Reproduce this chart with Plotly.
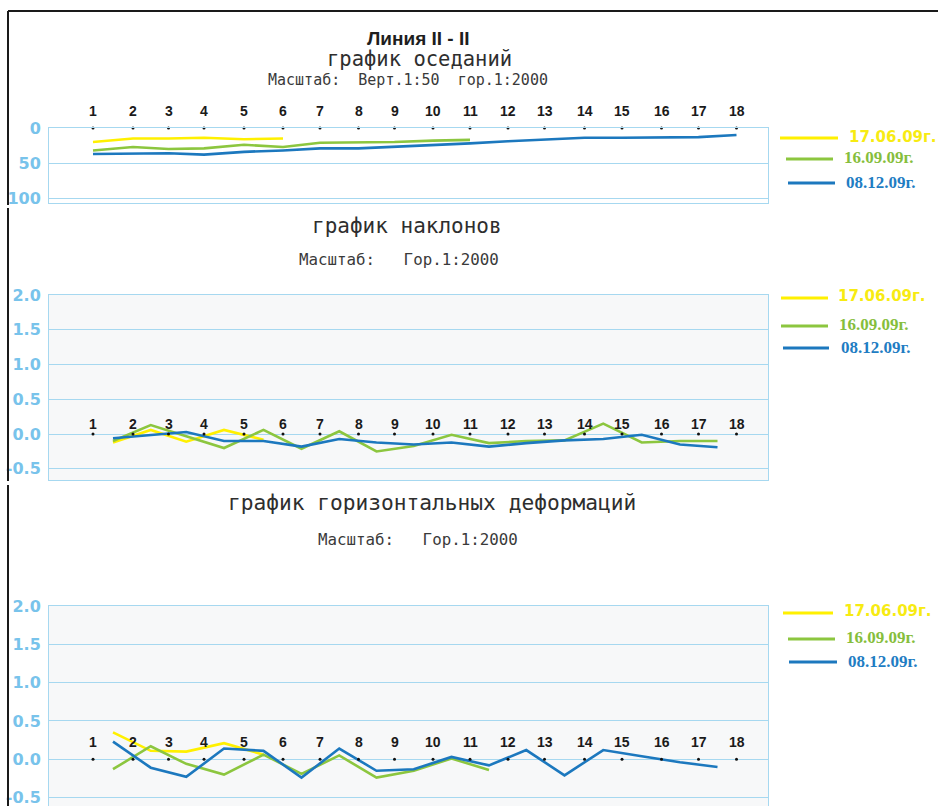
import plotly.graph_objects as go

# ---------------- data ----------------
station_labels = [str(i) for i in range(1, 19)]
# distance along the line (m), non-uniform station spacing
station_dist = [0, 40, 75.5, 111, 151, 190, 227, 265.5, 301.5, 340, 377, 415,
                451.5, 491.5, 529, 568.5, 605.5, 643.5]

series_names = ["17.06.09г.", "16.09.09г.", "08.12.09г."]

# settlement (mm) at stations
settle_jun = [20, 15, 15, 14, 16, 15]
settle_sep = [32, 27, 30, 29, 24, 27, 21, 21, 20, 18, 17]
settle_dec = [37, 36, 36, 38, 34, 32, 29, 29, 27, 24, 22, 19, 17, 14, 14, 14, 13, 10]

# tilts (per interval)
tilt_jun = [-0.12, 0.06, -0.11, 0.06, -0.08]
tilt_sep = [-0.10, 0.13, -0.03, -0.20, 0.06, -0.21, 0.04, -0.25, -0.17, -0.01,
            -0.13, -0.10, -0.09, 0.15, -0.12, -0.10, -0.10]
tilt_dec = [-0.06, -0.01, 0.03, -0.10, -0.10, -0.18, -0.07, -0.12, -0.15, -0.12,
            -0.18, -0.13, -0.09, -0.07, -0.01, -0.15, -0.19]

# horizontal deformations (per interval)
deform_jun = [0.35, 0.11, 0.10, 0.21, 0.06]
deform_sep = [-0.13, 0.17, -0.06, -0.20, 0.06, -0.19, 0.05, -0.24, -0.15, 0.01, -0.14]
deform_dec = [0.23, -0.11, -0.23, 0.14, 0.11, -0.24, 0.14, -0.15, -0.13, 0.03,
              -0.08, 0.12, -0.21, 0.12, 0.04, -0.04, -0.10]

settle_ticks = [0, 50, 100]
ratio_ticks = [2.0, 1.5, 1.0, 0.5, 0.0, -0.5]
ratio_ticktext = ["2.0", "1.5", "1.0", "0.5", "0.0", "-0.5"]

# ---------------- style ----------------
W, H = 938, 806
YEL, GRN, BLU = "#FFF000", "#8CC63F", "#1C78BE"
YEL_T, GRN_T, BLU_T = "#F7EB12", "#86BE3C", "#1F7DC3"
GRID = "#A6D8F0"
TICK = "#78C3EB"
colors = [YEL, GRN, BLU]
text_colors = [YEL_T, GRN_T, BLU_T]

def fx(p):
    return p / W

def fy(p):
    return 1 - p / H

mids = [(station_dist[i] + station_dist[i + 1]) / 2 for i in range(len(station_dist) - 1)]

fig = go.Figure()

panels = [
    ("x", "y", [settle_jun, settle_sep, settle_dec], station_dist),
    ("x2", "y2", [tilt_jun, tilt_sep, tilt_dec], mids),
    ("x3", "y3", [deform_jun, deform_sep, deform_dec], mids),
]
for xa, ya, vals, xs in panels:
    for k, v in enumerate(vals):
        fig.add_trace(go.Scatter(
            x=xs[:len(v)], y=v, mode="lines", xaxis=xa, yaxis=ya,
            line=dict(color=colors[k], width=2.6), name=series_names[k],
            showlegend=False, hoverinfo="skip"))
    # station dots
    fig.add_trace(go.Scatter(
        x=station_dist, y=[0] * len(station_dist), mode="markers", xaxis=xa, yaxis=ya,
        marker=dict(color="#111111", size=3), showlegend=False, cliponaxis=False,
        hoverinfo="skip"))

xdom = [fx(49), fx(768)]
xr = [-44, 675]
common_x = dict(domain=xdom, range=xr, showticklabels=False, showgrid=False,
                zeroline=False, showline=True, mirror=True, linecolor=GRID, linewidth=1,
                automargin=False)
common_y = dict(showgrid=True, gridcolor=GRID, gridwidth=1, zeroline=False,
                showline=True, mirror=True, linecolor=GRID, linewidth=1,
                ticks="", tickfont=dict(family="DejaVu Sans", size=16, color=TICK, weight="bold"),
                ticklabelstandoff=4, automargin=False, ticklabeloverflow="allow")

fig.update_layout(
    width=W, height=H, margin=dict(l=0, r=0, t=0, b=0, pad=0, autoexpand=False),
    paper_bgcolor="white", plot_bgcolor="white",
    xaxis=dict(anchor="y", **common_x),
    xaxis2=dict(anchor="y2", **common_x),
    xaxis3=dict(anchor="y3", **common_x),
    yaxis=dict(anchor="x", domain=[fy(203), fy(128)], range=[107, 0],
               tickvals=settle_ticks, **common_y),
    yaxis2=dict(anchor="x2", domain=[fy(480), fy(295)], range=[-0.66, 2.0],
                tickvals=ratio_ticks, ticktext=ratio_ticktext, **common_y),
    yaxis3=dict(anchor="x3", domain=[0, fy(606)], range=[-0.61, 2.0],
                tickvals=ratio_ticks, ticktext=ratio_ticktext, **common_y),
)

shapes = []
# light grey backgrounds of lower panels
for xa, ya in [("x2", "y2"), ("x3", "y3")]:
    shapes.append(dict(type="rect", xref=f"{xa} domain", yref=f"{ya} domain",
                       x0=0, x1=1, y0=0, y1=1, fillcolor="#F7F8F9",
                       line=dict(width=0), layer="below"))
# black frame
frame = dict(color="#1A1A1A", width=2)
shapes.append(dict(type="line", xref="paper", yref="paper", x0=fx(8), x1=1,
                   y0=fy(11), y1=fy(11), line=frame))
for a, b in [(11, 205), (208, 481), (485, 806)]:
    shapes.append(dict(type="line", xref="paper", yref="paper", x0=fx(8), x1=fx(8),
                       y0=fy(a), y1=fy(b), line=frame))

annotations = []

def ann(text, x, y, size, family, color="#2A2A2A", xanchor="center", weight="normal"):
    annotations.append(dict(text=text, x=fx(x), y=fy(y), xref="paper", yref="paper",
                            showarrow=False, xanchor=xanchor, yanchor="middle",
                            borderpad=0,
                            font=dict(family=family, size=size, color=color, weight=weight)))

NB = "\u00a0"
ann("Линия II - II", 418, 39, 19, "Liberation Sans", "#1E1E1E", weight="bold")
ann("график оседаний", 419, 59, 20.5, "DejaVu Sans Mono", "#2E2E2E")
ann("Масштаб:" + NB * 2 + "Верт.1:50" + NB * 2 + "гор.1:2000", 408, 80, 15, "DejaVu Sans Mono", "#3A3A3A")
ann("график наклонов", 407, 226, 21, "DejaVu Sans Mono", "#2E2E2E")
ann("Масштаб:" + NB * 3 + "Гор.1:2000", 399, 259, 15.8, "DejaVu Sans Mono", "#3A3A3A")
ann("график горизонтальных деформаций", 432, 502, 21.2, "DejaVu Sans Mono", "#2E2E2E")
ann("Масштаб:" + NB * 3 + "Гор.1:2000", 418, 539, 15.8, "DejaVu Sans Mono", "#3A3A3A")

# station number labels
for xa, ya, shift in [("x", "y", 17), ("x2", "y2", 10), ("x3", "y3", 17)]:
    for d, lab in zip(station_dist, station_labels):
        annotations.append(dict(text=lab, x=d, y=0, xref=xa, yref=ya, showarrow=False,
                                yshift=shift, yanchor="middle",
                                font=dict(family="Liberation Sans", size=14, color="#1A1A1A",
                                          weight="bold")))

# legends (line sample + coloured date text) for each panel
legend_pos = [
    # (line x0, x1, y, text x, text y) for each series
    [(780, 838, 138, 848, 137), (786, 833, 159, 843, 157), (788, 835, 183, 845, 182)],
    [(781, 828, 298, 837, 296), (781, 828, 326, 838, 324), (783, 829, 348, 840, 347)],
    [(783, 833, 613, 843, 611), (788, 835, 639, 845, 637), (789, 837, 662, 847, 661)],
]
legend_fonts = [("DejaVu Sans", 15), ("Liberation Serif", 17), ("Liberation Serif", 17)]
for panel in legend_pos:
    for k, (x0, x1, ly, tx, ty) in enumerate(panel):
        shapes.append(dict(type="line", xref="paper", yref="paper", x0=fx(x0), x1=fx(x1),
                           y0=fy(ly), y1=fy(ly), line=dict(color=colors[k], width=3)))
        ann(series_names[k], tx, ty, legend_fonts[k][1], legend_fonts[k][0],
            text_colors[k], xanchor="left", weight="bold")

fig.update_layout(shapes=shapes, annotations=annotations)

fig.write_html("out.html", include_plotlyjs=True, config={"displayModeBar": False},
               post_script="document.body.style.margin='0';document.body.style.overflow='hidden';")
